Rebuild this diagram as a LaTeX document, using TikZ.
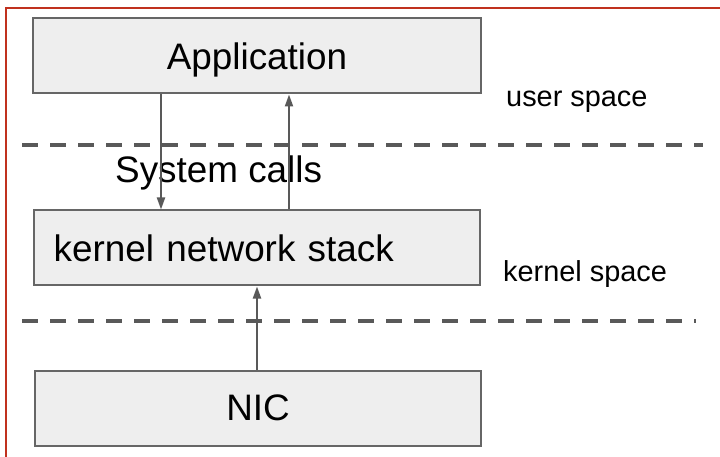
\documentclass[tikz,border=0pt]{standalone}
\usepackage{fontspec}
\setmainfont{Liberation Sans}
\usetikzlibrary{arrows.meta}
\definecolor{framered}{HTML}{C0311E}
\definecolor{boxline}{HTML}{666666}
\definecolor{boxfill}{HTML}{EEEEEE}
\definecolor{arrgray}{HTML}{595959}
\tikzset{
  layerbox/.style={draw=boxline, fill=boxfill, line width=2bp, minimum height=75bp, text depth=0pt, inner sep=0pt, font=\fontsize{37}{44}\selectfont},
  arr/.style={draw=arrgray, line width=2bp, -{Triangle[length=12bp,width=8bp]}},
  divider/.style={draw=arrgray, line width=3.5bp, dash pattern=on 16bp off 12bp},
  biglabel/.style={font=\fontsize{37}{44}\selectfont, inner sep=0pt, anchor=base west},
  sidelabel/.style={font=\fontsize{29}{34}\selectfont, inner sep=0pt, anchor=base west}
}
\begin{document}
\begin{tikzpicture}[x=1bp,y=-1bp]
\useasboundingbox (0,0) rectangle (720,457);
\fill[white] (0,0) rectangle (720,457);
\draw[framered, line width=2.5bp] (6,457) -- (6,8) -- (720,8);

\node[layerbox, minimum width=447bp] (app) at (257,56) {Application};
\node[layerbox, minimum width=446.5bp, text width=406.5bp, align=left, inner xsep=20bp] (kern) at (257,248) {kernel network stack};
\node[layerbox, minimum width=446bp] (nic) at (258,408) {NIC};

\coordinate (d1s) at (22,145);
\coordinate (d1e) at (703,145);
\coordinate (d2s) at (22,321);
\coordinate (d2e) at (696,321);
\draw[divider] (d1s) -- (d1e);
\draw[divider] (d2s) -- (d2e);

\node[biglabel] (sys) at (115,183) {System calls};
\node[sidelabel] (us) at (506,107) {user space};
\node[sidelabel] (ks) at (503,282) {kernel space};

\coordinate (xa) at (161,0);
\coordinate (xb) at (289,0);
\coordinate (xc) at (257,0);
\draw[arr] (app.south -| xa) -- (kern.north -| xa);
\draw[arr] (kern.north -| xb) -- (app.south -| xb);
\draw[arr] (nic.north -| xc) -- (kern.south -| xc);
\end{tikzpicture}
\end{document}
